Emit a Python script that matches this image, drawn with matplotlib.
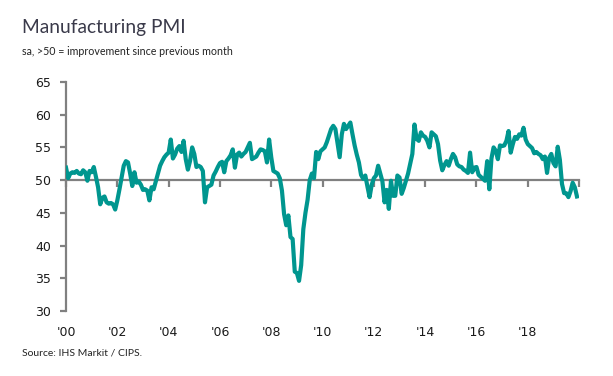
import numpy as np
import matplotlib
matplotlib.use("Agg")
import matplotlib.pyplot as plt

# UK manufacturing PMI, monthly, Jan 2000 - Dec 2019
pmi_2000 = [51.9, 50.3, 51.0, 51.2, 51.1, 51.4, 51.0, 50.9, 51.5, 51.2, 49.9, 51.4]
pmi_2001 = [51.2, 52.0, 50.5, 48.9, 46.3, 47.3, 47.5, 46.6, 46.4, 46.5, 46.3, 45.5]
pmi_2002 = [46.9, 48.6, 50.4, 52.2, 52.9, 52.7, 51.0, 49.1, 51.2, 49.6, 49.8, 49.3]
pmi_2003 = [48.5, 48.6, 48.4, 46.9, 48.9, 48.6, 49.8, 51.0, 52.2, 52.9, 53.5, 53.9]
pmi_2004 = [54.2, 56.2, 53.3, 53.9, 54.8, 55.2, 54.3, 56.0, 53.2, 51.6, 52.9, 55.0]
pmi_2005 = [54.0, 52.0, 52.2, 52.0, 51.4, 46.6, 48.9, 49.1, 49.3, 50.7, 51.3, 52.0]
pmi_2006 = [52.6, 52.8, 51.2, 52.9, 53.3, 53.8, 54.7, 51.9, 53.9, 54.2, 53.6, 54.0]
pmi_2007 = [54.3, 55.0, 55.7, 53.2, 53.4, 53.6, 54.2, 54.7, 54.6, 54.4, 52.7, 56.2]
pmi_2008 = [53.5, 51.4, 51.2, 51.0, 50.3, 48.4, 44.8, 43.1, 44.6, 41.3, 41.0, 36.0]
pmi_2009 = [35.8, 34.6, 37.0, 42.5, 45.0, 47.0, 50.0, 51.0, 50.3, 54.3, 53.2, 54.4]
pmi_2010 = [54.7, 55.0, 55.8, 56.8, 57.8, 58.3, 57.8, 55.6, 53.5, 57.0, 58.6, 57.8]
pmi_2011 = [58.3, 58.8, 57.0, 55.3, 53.9, 52.7, 50.8, 50.2, 50.7, 49.0, 47.4, 49.3]
pmi_2012 = [50.3, 50.7, 52.2, 51.0, 49.8, 46.6, 48.5, 45.6, 49.9, 47.6, 47.6, 50.7]
pmi_2013 = [50.4, 47.9, 48.8, 49.9, 51.0, 52.5, 54.0, 58.5, 56.3, 56.0, 57.3, 56.8]
pmi_2014 = [56.6, 56.0, 55.0, 57.3, 57.0, 56.7, 55.5, 53.0, 51.5, 52.3, 52.9, 52.2]
pmi_2015 = [53.2, 54.0, 53.5, 52.4, 52.1, 52.0, 51.6, 51.4, 51.1, 54.2, 51.2, 51.9]
pmi_2016 = [52.0, 50.8, 50.5, 50.2, 49.9, 52.9, 48.6, 53.3, 55.0, 54.5, 53.2, 55.3]
pmi_2017 = [55.2, 55.3, 56.0, 57.5, 54.2, 55.5, 56.6, 56.3, 57.0, 56.8, 58.0, 56.2]
pmi_2018 = [55.5, 55.2, 54.9, 54.1, 54.3, 54.0, 53.8, 53.2, 53.6, 51.1, 53.4, 54.0]
pmi_2019 = [52.6, 52.1, 55.1, 53.1, 49.4, 48.0, 48.0, 47.4, 48.3, 49.6, 48.9, 47.5]

pmi = (pmi_2000 + pmi_2001 + pmi_2002 + pmi_2003 + pmi_2004 + pmi_2005 +
       pmi_2006 + pmi_2007 + pmi_2008 + pmi_2009 + pmi_2010 + pmi_2011 +
       pmi_2012 + pmi_2013 + pmi_2014 + pmi_2015 + pmi_2016 + pmi_2017 +
       pmi_2018 + pmi_2019)

tick_years = list(range(2000, 2021, 2))
tick_labels = ["'00", "'02", "'04", "'06", "'08", "'10", "'12", "'14", "'16", "'18", ""]
y_ticks = [30, 35, 40, 45, 50, 55, 60, 65]

teal = "#00968f"
grey = "#808080"

x = 2000 + np.arange(len(pmi)) / 12.0

fig = plt.figure(figsize=(6.13, 3.76), dpi=100)
ax = fig.add_axes([0.1077, 0.173, 0.837, 0.609])

ax.plot(x, pmi, color=teal, lw=3.0, solid_joinstyle="round", zorder=3)

ax.set_xlim(2000, 2020)
ax.set_ylim(30, 65)

# the 50 line carries the x tick marks
ax.spines["top"].set_visible(False)
ax.spines["right"].set_visible(False)
ax.spines["bottom"].set_position(("data", 50))
ax.spines["bottom"].set_color(grey)
ax.spines["bottom"].set_linewidth(1.6)
ax.spines["bottom"].set_zorder(2)
ax.spines["left"].set_color(grey)
ax.spines["left"].set_linewidth(1.6)

ax.set_xticks(tick_years)
ax.tick_params(axis="x", direction="out", length=5, width=1.6, color=grey,
               labelbottom=False)
ax.set_yticks(y_ticks)
ax.tick_params(axis="y", direction="out", length=4.5, width=1.6, color=grey,
               labelsize=9, labelcolor="#1a1a1a", pad=6)

# labels along the bottom, without the axis line
sec = ax.secondary_xaxis(0.0)
sec.set_xticks(tick_years, tick_labels)
sec.tick_params(length=0, labelsize=9, labelcolor="#1a1a1a", pad=11)
sec.spines["bottom"].set_visible(False)

fig.text(0.036, 0.913, "Manufacturing PMI", family="Lato", fontsize=13.8,
         color="#3a3a4a", va="baseline")
fig.text(0.036, 0.853, "sa, >50 = improvement since previous month",
         family="Lato", fontsize=7.7, color="#222222", va="baseline")
fig.text(0.036, 0.055, "Source: IHS Markit / CIPS.", family="Lato",
         fontsize=7.5, color="#222222", va="baseline")

fig.savefig("out.png", dpi=100)
